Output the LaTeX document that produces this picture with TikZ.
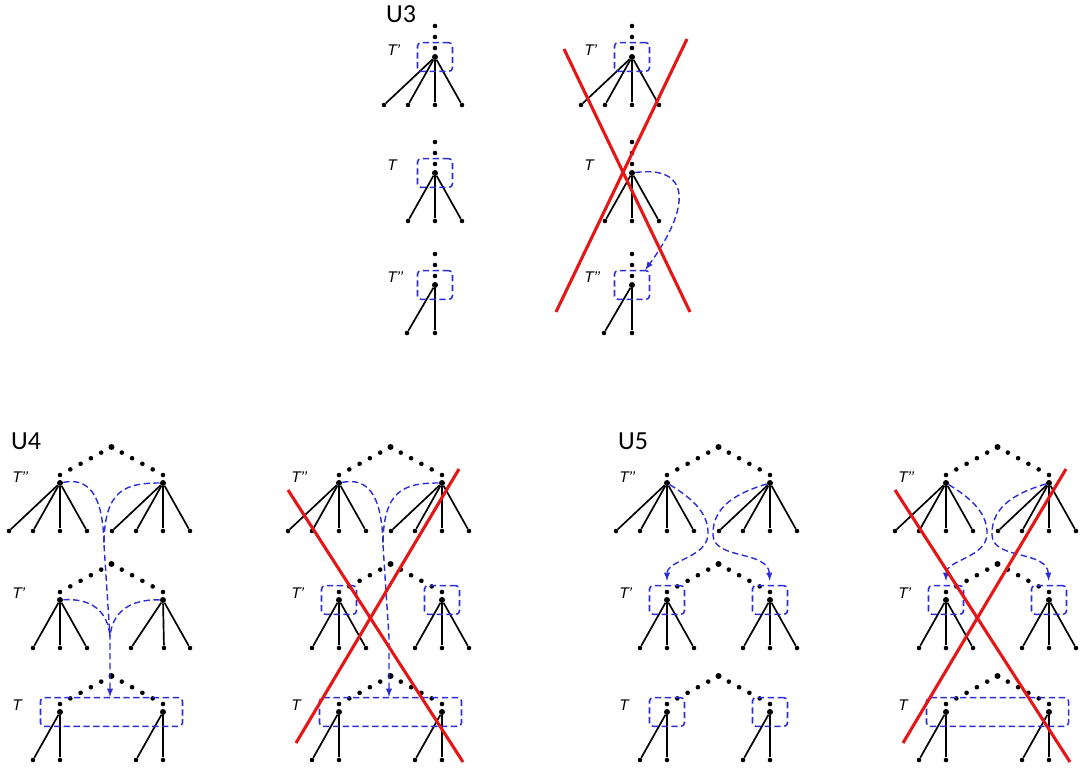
\documentclass[tikz,border=0pt]{standalone}
\usepackage{fontspec}
\setmainfont{Carlito}
\newfontfamily\labelFont{Liberation Sans}
\usetikzlibrary{arrows,calc}
\definecolor{crossRed}{RGB}{228,22,22}
\definecolor{flowBlue}{RGB}{45,45,215}
\newcommand{\leafDrop}{48}
\newcommand{\roofRise}{36}

\newcommand{\fanTree}[4]{%
  \node[bigdot] (#1) at (#2,#3) {};
  \foreach \dx [count=\i] in {#4} {
    \node[dot] (#1-\i) at ({#2+\dx},{#3+\leafDrop}) {};
    \draw[edge] (#1) -- (#1-\i);
  }
}
\newcommand{\stemTree}[4]{%
  \foreach \dy [count=\i] in {9,20,31}
    \node[dot] (#1-up\i) at (#2,{#3-\dy}) {};
  \fanTree{#1}{#2}{#3}{#4}
}
\newcommand{\stemColumn}[1]{%
  \node[lbl] (#1-tp-name) at (387,50) {T’};
  \node[lbl] (#1-t-name) at (387,165) {T};
  \node[lbl] (#1-tpp-name) at (387,277) {T’’};
  \stemTree{#1-tp}{435}{57}{-51,-27,0,27}
  \stemTree{#1-t}{435}{173}{-27,0,27}
  \stemTree{#1-tpp}{435}{285}{-28,0}
}
\newcommand{\roofLevel}[4]{%
  \fanTree{#1-l}{60}{#2}{#3}
  \fanTree{#1-r}{163}{#2}{#4}
  \node[bigdot] (#1-top) at (111.5,{#2-\roofRise}) {};
  \coordinate (#1-lu) at (60,{#2-8});
  \coordinate (#1-ru) at (163,{#2-8});
  \foreach \k in {1,...,5} {
    \node[dot] (#1-ld\k) at ($(#1-top)!\k/5!(#1-lu)$) {};
    \node[dot] (#1-rd\k) at ($(#1-top)!\k/5!(#1-ru)$) {};
  }
}
\newcommand{\roofPanel}[2]{%
  \node[lbl] (#1-tpp-name) at (12,477) {T’’};
  \node[lbl] (#1-tp-name) at (12,593) {T’};
  \node[lbl] (#1-t-name) at (12,705) {T};
  \roofLevel{#1-tpp}{483}{-51,-27,0,27}{-51,-27,0,27}
  \roofLevel{#1-tp}{600}{-27,0,27}{#2}
  \roofLevel{#1-t}{712}{-27,0}{-27,0}
}
\newcommand{\crossOut}[1]{%
  \coordinate (#1-xa1) at (9,490);
  \coordinate (#1-xa2) at (184,762);
  \coordinate (#1-xb1) at (180,469);
  \coordinate (#1-xb2) at (17,743);
  \draw[cross] (#1-xa1) -- (#1-xa2);
  \draw[cross] (#1-xb1) -- (#1-xb2);
}

\begin{document}
\begin{tikzpicture}[x=0.025cm, y=-0.025cm,
    dot/.style={circle, fill, inner sep=0pt, minimum size=0.115cm},
    bigdot/.style={dot, minimum size=0.15cm},
    edge/.style={line width=1.2pt},
    lbl/.style={anchor=west, inner sep=0pt, font=\labelFont\itshape\fontsize{11}{11}\selectfont},
    heading/.style={inner sep=0pt, font=\fontsize{18.5}{18.5}\selectfont},
    selbox/.style={draw=flowBlue, line width=1.1pt, dash pattern=on 4.5pt off 2.5pt,
      rounded corners=0.09cm, minimum width=0.875cm, minimum height=0.72cm, inner sep=0pt},
    flow/.style={draw=flowBlue, line width=1pt, dash pattern=on 4.5pt off 2.5pt},
    cross/.style={draw=crossRed, line width=2.2pt}]
\useasboundingbox (0,0) rectangle (1080,770);

\node[heading] (u3) at (401,14) {U3};
\node[heading] (u4) at (26,441) {U4};
\node[heading] (u5) at (633,441) {U5};

\stemColumn{sa}
\begin{scope}[shift={(197,0)}]
\stemColumn{sb}
\end{scope}
\node[selbox] (sa-tp-box) at (sa-tp) {};
\node[selbox] (sa-t-box) at (sa-t) {};
\node[selbox] (sa-tpp-box) at (sa-tpp) {};
\node[selbox] (sb-tp-box) at (sb-tp) {};
\node[selbox] (sb-tpp-box) at (sb-tpp) {};
\draw[flow,-latex] (sb-t) .. controls +(59,-8) and +(46,-63) .. ($(sb-tpp-box.north east)+(-5,0)$);
\coordinate (sx-a1) at (564,49);
\coordinate (sx-a2) at (690,312);
\coordinate (sx-b1) at (687,39);
\coordinate (sx-b2) at (556,312);
\draw[cross] (sx-a1) -- (sx-a2);
\draw[cross] (sx-b1) -- (sx-b2);

\roofPanel{pa}{-32,1,27}
\node[selbox, minimum width=3.55cm] (pa-t-box) at ($(pa-t-l)!0.5!(pa-t-r)$) {};
\coordinate (pa-m1) at (104,545);
\coordinate (pa-m2) at (110,637);
\draw[flow] (pa-tpp-l) .. controls +(26,-5) and +(-1,-55) .. (pa-m1);
\draw[flow] (pa-tpp-r) .. controls +(-38,0) and +(0,-55) .. (pa-m1);
\draw[flow] (pa-tp-l) .. controls +(30,-2) and +(-2,-27) .. (pa-m2);
\draw[flow] (pa-tp-r) .. controls +(-33,-1) and +(2,-25) .. (pa-m2);
\draw[flow,-latex] (pa-m1) -- (pa-m2) -- (pa-m2 |- pa-t-box.north);

\begin{scope}[shift={(279,0)}]
\roofPanel{pb}{-27,0,27}
\node[selbox] (pb-tp-lbox) at (pb-tp-l) {};
\node[selbox] (pb-tp-rbox) at (pb-tp-r) {};
\node[selbox, minimum width=3.55cm] (pb-t-box) at ($(pb-t-l)!0.5!(pb-t-r)$) {};
\coordinate (pb-m1) at (104,545);
\coordinate (pb-m2) at (110,637);
\draw[flow] (pb-tpp-l) .. controls +(26,-5) and +(-1,-55) .. (pb-m1);
\draw[flow] (pb-tpp-r) .. controls +(-38,0) and +(0,-55) .. (pb-m1);
\draw[flow,-latex] (pb-m1) -- (pb-m2) -- (pb-m2 |- pb-t-box.north);
\crossOut{pb}
\end{scope}

\begin{scope}[shift={(607,0)}]
\roofPanel{pc}{-27,0,27}
\node[selbox] (pc-tp-lbox) at (pc-tp-l) {};
\node[selbox] (pc-tp-rbox) at (pc-tp-r) {};
\node[selbox] (pc-t-lbox) at (pc-t-l) {};
\node[selbox] (pc-t-rbox) at (pc-t-r) {};
\draw[flow,-latex,shorten >=0.1cm] (pc-tpp-l) .. controls (88,500) and (102,515) .. (101,535)
  .. controls (99,558) and (60,560) .. (pc-tp-lbox.north);
\draw[flow,-latex,shorten >=0.1cm] (pc-tpp-r) .. controls (133,492) and (105,505) .. (106,535)
  .. controls (107,560) and (161,550) .. (pc-tp-rbox.north);
\end{scope}

\begin{scope}[shift={(886,0)}]
\roofPanel{pd}{-27,0,27}
\node[selbox] (pd-tp-lbox) at (pd-tp-l) {};
\node[selbox] (pd-tp-rbox) at (pd-tp-r) {};
\node[selbox, minimum width=3.55cm] (pd-t-box) at ($(pd-t-l)!0.5!(pd-t-r)$) {};
\draw[flow,-latex,shorten >=0.1cm] (pd-tpp-l) .. controls (88,500) and (102,515) .. (101,535)
  .. controls (99,558) and (60,560) .. (pd-tp-lbox.north);
\draw[flow,-latex,shorten >=0.1cm] (pd-tpp-r) .. controls (133,492) and (105,505) .. (106,535)
  .. controls (107,560) and (161,550) .. (pd-tp-rbox.north);
\crossOut{pd}
\end{scope}
\end{tikzpicture}
\end{document}
